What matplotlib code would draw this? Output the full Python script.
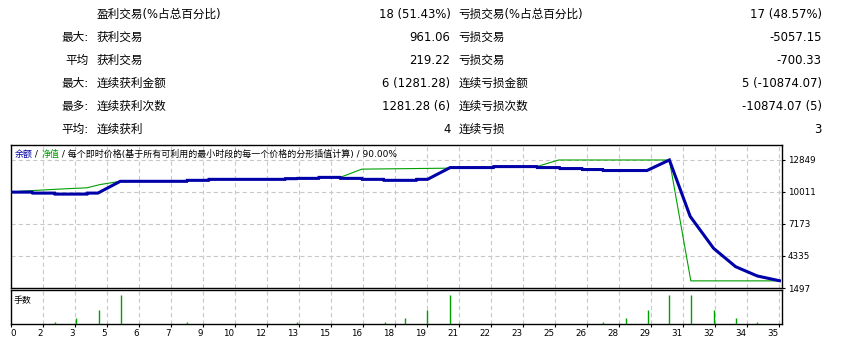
import matplotlib
matplotlib.use("Agg")
import matplotlib.pyplot as plt

plt.rcParams['font.family'] = ['DejaVu Sans', 'Noto Sans CJK SC']
plt.rcParams['lines.scale_dashes'] = False

# ---- statistics table ----
row_prefix = ["", "最大:", "平均", "最大:", "最多:", "平均:"]
win_names = ["盈利交易(%占总百分比)", "获利交易", "获利交易", "连续获利金额", "连续获利次数", "连续获利"]
win_values = ["18 (51.43%)", "961.06", "219.22", "6 (1281.28)", "1281.28 (6)", "4"]
loss_names = ["亏损交易(%占总百分比)", "亏损交易", "亏损交易", "连续亏损金额", "连续亏损次数", "连续亏损"]
loss_values = ["17 (48.57%)", "-5057.15", "-700.33", "5 (-10874.07)", "-10874.07 (5)", "3"]

# ---- graph data (x = position along the tester graph, in grid cells) ----
balance_x = [0, 0.67, 0.69, 1.38, 1.39, 2.39, 2.40, 2.73, 3.43, 5.51, 5.52, 6.19, 6.20,
             8.58, 8.59, 8.95, 8.96, 9.63, 9.64, 10.30, 10.31, 10.98, 10.99, 11.66, 11.67,
             12.68, 12.69, 13.03, 13.74, 15.09, 15.10, 16.45, 16.46, 17.16, 17.17, 17.86,
             17.87, 18.51, 18.52, 19.89, 20.59, 21.24, 21.97, 22.66, 23.34, 24.03]
balance = [10000, 10000, 9913, 9913, 9826, 9826, 9913, 9913, 10958, 10958, 11045, 11045, 11132,
           11132, 11193, 11193, 11219, 11219, 11307, 11307, 11219, 11219, 11132, 11132, 11045,
           11045, 11132, 11132, 12178, 12178, 12265, 12265, 12178, 12178, 12090, 12090,
           12003, 12003, 11916, 11916, 12849, 7850, 5018, 3386, 2561, 2140]

equity_x = [0, 0.36, 1.71, 2.39, 2.80, 3.43, 5.51, 5.52, 6.19, 6.20, 8.58, 8.59, 8.95, 8.96,
            9.63, 9.64, 10.30, 10.98, 13.73, 13.74, 15.09, 15.10, 16.45, 17.13, 20.59, 21.26, 24.03]
equity = [10000, 10087, 10296, 10383, 10671, 10958, 10958, 11045, 11045, 11132, 11132, 11254,
          11254, 11219, 11219, 11307, 11307, 12038, 12125, 12178, 12178, 12265, 12265, 12849,
          12849, 2130, 2130]

lots_x = [1.38, 2.06, 2.75, 3.44, 5.50, 8.94, 11.69, 12.34, 13.03, 13.72, 18.53, 19.22,
          19.91, 20.59, 21.28, 21.97, 22.66, 23.34]
lots = [0.1, 0.3, 0.7, 1.5, 0.1, 0.1, 0.1, 0.3, 0.7, 1.5, 0.1, 0.3, 0.7, 1.5, 1.5, 0.7, 0.3, 0.1]

y_ticks = [12849, 10011, 7173, 4335, 1497]
x_tick_labels = ["0", "2", "3", "5", "6", "7", "9", "10", "12", "13", "15", "16", "18", "19",
                 "21", "22", "23", "25", "26", "28", "29", "31", "32", "34", "35"]

W, H = 841, 344
BLUE = "#0000a8"
GREEN = "#00a000"
GRID = "#c8c8c8"

fig = plt.figure(figsize=(W / 100, H / 100), dpi=100)
fig.patch.set_facecolor("white")


def fx(px):
    return px / W


def fy(py):
    return 1 - py / H


# table
fs = 8.4
for i in range(len(row_prefix)):
    y = fy(14.5 + 23 * i)
    fig.text(fx(88.5), y, row_prefix[i], ha="right", va="center", fontsize=fs)
    fig.text(fx(96.5), y, win_names[i], ha="left", va="center", fontsize=fs)
    fig.text(fx(450.5), y, win_values[i], ha="right", va="center", fontsize=fs)
    fig.text(fx(458.5), y, loss_names[i], ha="left", va="center", fontsize=fs)
    fig.text(fx(821.5), y, loss_values[i], ha="right", va="center", fontsize=fs)

left, right = 10.5, 781.7
ax = fig.add_axes([fx(left), fy(288), fx(right - left), (288 - 145) / H])
axv = fig.add_axes([fx(left), fy(324), fx(right - left), (324 - 290) / H])

xmax = (right - left) / 32

for a in (ax, axv):
    a.set_xlim(0, xmax)
    a.set_xticks(range(0, 25))
    for s in a.spines.values():
        s.set_linewidth(1.0)
        s.set_color("black")
    a.grid(True, axis="x", color=GRID, linestyle=(0, (3, 2.2)), linewidth=0.8)
    a.set_axisbelow(True)

ax.set_ylim(1497, 14179)
ax.set_yticks(y_ticks)
ax.set_yticklabels([str(v) for v in y_ticks])
ax.yaxis.tick_right()
ax.tick_params(axis="y", direction="out", length=2.5, width=0.8, pad=2, labelsize=6.3)
ax.tick_params(axis="x", length=0, labelbottom=False)
ax.grid(True, axis="y", color=GRID, linestyle=(0, (3, 2.2)), linewidth=0.8)

ax.plot(equity_x, equity, color=GREEN, lw=0.8, zorder=3)
ax.plot(balance_x, balance, color=BLUE, lw=2.2, zorder=4, solid_joinstyle="miter")

axv.vlines(lots_x, 0, lots, color=GREEN, lw=1.0, zorder=3)
axv.set_ylim(0, 1.76)
axv.set_yticks([])
axv.set_xticklabels(x_tick_labels)
axv.tick_params(axis="x", direction="out", length=2, width=0.8, pad=1.5, labelsize=6.3)
for i, lab in enumerate(axv.get_xticklabels()):
    lab.set_ha("left" if i == 0 else "right")

# graph caption with coloured parts
renderer = fig.canvas.get_renderer()
pieces = [("余额", BLUE), (" / ", "black"), ("净值", GREEN),
          (" / 每个即时价格(基于所有可利用的最小时段的每一个价格的分形插值计算) / 90.00%", "black")]
x = 14.5
for s, c in pieces:
    t = fig.text(fx(x), fy(154), s, color=c, fontsize=6.45, ha="left", va="center")
    x += t.get_window_extent(renderer).width

fig.text(fx(14), fy(300), "手数", fontsize=6.4, ha="left", va="center")

fig.savefig("out.png", dpi=100)
